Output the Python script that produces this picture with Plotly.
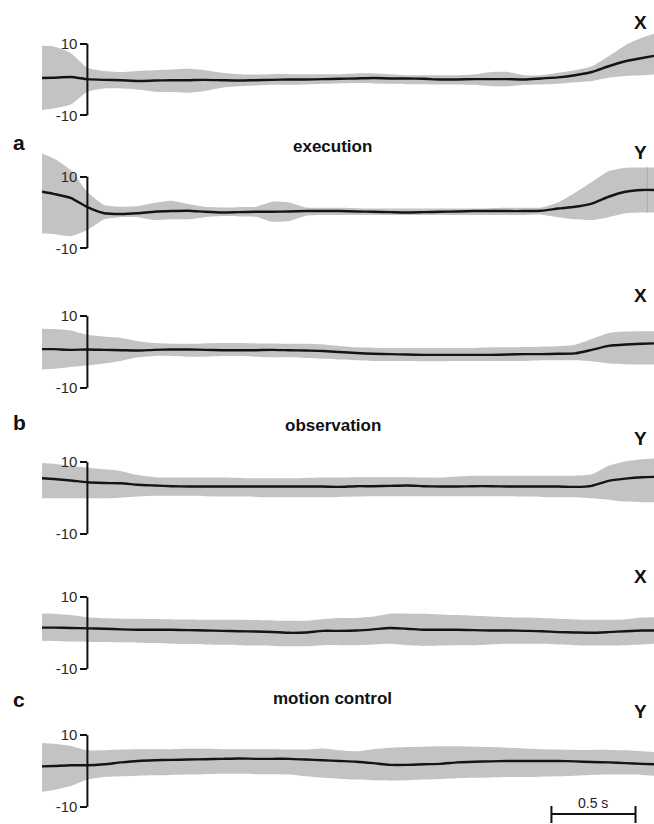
import plotly.graph_objects as go

# ---------------- data ----------------
time_s = [-0.27, -0.2, -0.1, 0.0, 0.1, 0.2, 0.3, 0.4, 0.5, 0.6, 0.7, 0.8, 0.9,
          1.0, 1.1, 1.2, 1.3, 1.4, 1.5, 1.6, 1.7, 1.8, 1.9, 2.0, 2.1, 2.2, 2.3,
          2.4, 2.5, 2.6, 2.7, 2.8, 2.9, 3.0, 3.1, 3.2, 3.3, 3.37]

exec_x_mean = [0.4, 0.5, 0.7, 0.1, -0.1, -0.2, -0.4, -0.3, -0.2, -0.2, -0.1, -0.2, -0.3,
               -0.2, -0.1, 0.0, 0.0, 0.1, 0.2, 0.3, 0.4, 0.3, 0.3, 0.2, 0.0, 0.0, 0.1,
               0.1, 0.1, 0.0, 0.3, 0.6, 1.2, 2.1, 3.7, 5.1, 6.0, 6.6]
exec_x_upper = [9.4, 9.2, 7.4, 3.3, 2.4, 2.1, 2.4, 2.6, 2.8, 3.0, 2.6, 1.9, 1.5,
                1.4, 1.5, 1.5, 1.5, 1.5, 1.5, 1.7, 1.7, 1.5, 1.2, 1.2, 1.2, 1.2, 1.4,
                2.1, 2.1, 1.2, 1.2, 1.9, 2.6, 3.7, 6.5, 9.6, 11.7, 12.8]
exec_x_lower = [-8.5, -8.1, -7.0, -3.4, -2.5, -2.5, -2.8, -3.4, -3.5, -3.7, -3.2, -2.3, -1.9,
                -1.7, -1.5, -1.5, -1.4, -1.2, -1.1, -1.0, -1.1, -1.2, -1.3, -1.3, -1.4, -1.4, -1.5,
                -1.9, -1.9, -1.5, -1.4, -1.2, -0.8, -0.4, 0.5, 1.0, 1.2, 1.4]

exec_y_mean = [5.8, 5.2, 4.1, 1.5, -0.2, -0.4, -0.2, 0.2, 0.4, 0.5, 0.2, 0.0, 0.1,
               0.2, 0.2, 0.3, 0.4, 0.4, 0.4, 0.3, 0.2, 0.1, 0.0, 0.1, 0.2, 0.3, 0.4,
               0.4, 0.4, 0.4, 0.5, 1.1, 1.6, 2.5, 4.4, 5.8, 6.3, 6.3]
exec_y_upper = [16.5, 15.1, 11.9, 5.8, 2.1, 1.6, 1.8, 2.7, 3.3, 2.4, 1.6, 1.4, 1.5,
                1.6, 3.0, 2.8, 1.4, 1.3, 1.3, 1.2, 1.1, 1.1, 1.1, 1.1, 1.1, 1.1, 1.1,
                1.2, 1.3, 1.3, 1.4, 2.8, 5.5, 8.5, 11.5, 12.5, 12.6, 12.6]
exec_y_lower = [-5.8, -6.0, -6.6, -4.9, -1.9, -1.3, -1.3, -2.1, -1.9, -1.9, -1.3, -1.0, -1.1,
                -1.2, -2.6, -2.4, -0.9, -0.7, -0.7, -0.7, -0.7, -0.7, -0.7, -0.7, -0.7, -0.7, -0.7,
                -0.7, -0.7, -0.7, -0.6, -1.3, -1.9, -2.1, -1.3, -0.2, 0.0, 0.0]
# thin grey trace artefact visible at the right of the execution-Y band
exec_y_artefact_t = 3.33
exec_y_artefact_span = [0.0, 12.6]

obs_x_mean = [0.8, 0.8, 0.6, 0.7, 0.6, 0.5, 0.4, 0.6, 0.7, 0.7, 0.6, 0.5, 0.5,
              0.5, 0.6, 0.5, 0.4, 0.3, 0.0, -0.3, -0.5, -0.6, -0.7, -0.8, -0.8, -0.8, -0.8,
              -0.8, -0.7, -0.6, -0.6, -0.5, -0.4, 0.6, 1.7, 2.1, 2.3, 2.4]
obs_x_upper = [6.5, 6.4, 6.0, 4.8, 4.3, 3.9, 3.0, 2.5, 2.3, 2.3, 2.4, 2.5, 2.5,
               2.4, 2.4, 2.3, 2.3, 2.1, 1.7, 1.3, 1.2, 1.1, 1.1, 1.1, 1.1, 1.1, 1.1,
               1.3, 1.3, 1.4, 1.5, 1.6, 2.0, 3.6, 5.3, 5.7, 5.8, 5.8]
obs_x_lower = [-4.9, -4.7, -4.2, -3.7, -3.2, -2.5, -1.5, -1.1, -1.1, -1.3, -1.3, -1.1, -1.1,
               -1.3, -1.5, -1.5, -1.7, -1.9, -2.1, -2.3, -2.5, -2.5, -2.5, -2.6, -2.6, -2.5, -2.5,
               -2.5, -2.5, -2.5, -2.3, -2.3, -2.3, -2.6, -3.2, -3.4, -3.5, -3.5]

obs_y_mean = [5.5, 5.3, 4.9, 4.4, 4.2, 4.1, 3.7, 3.5, 3.3, 3.2, 3.2, 3.2, 3.2,
              3.2, 3.2, 3.2, 3.2, 3.2, 3.1, 3.3, 3.3, 3.4, 3.5, 3.3, 3.2, 3.2, 3.3,
              3.3, 3.2, 3.2, 3.2, 3.2, 3.1, 3.4, 4.8, 5.4, 5.8, 5.9]
obs_y_upper = [9.8, 9.6, 9.0, 8.5, 8.0, 7.5, 6.4, 5.8, 5.7, 5.7, 5.7, 5.7, 5.6,
               5.5, 5.5, 5.5, 5.6, 5.7, 5.7, 5.8, 5.8, 5.8, 5.8, 5.7, 5.7, 6.0, 6.2,
               6.2, 6.2, 6.2, 6.2, 6.2, 6.2, 6.6, 9.0, 10.2, 10.8, 11.0]
obs_y_lower = [-0.1, -0.1, -0.1, -0.1, -0.1, 0.1, 0.4, 0.6, 0.6, 0.6, 0.5, 0.4, 0.4,
               0.3, 0.2, 0.2, 0.2, 0.2, 0.3, 0.4, 0.5, 0.5, 0.5, 0.5, 0.5, 0.5, 0.5,
               0.5, 0.5, 0.4, 0.3, 0.2, 0.2, -0.1, -0.5, -1.0, -1.2, -1.2]

ctrl_x_mean = [1.5, 1.5, 1.4, 1.3, 1.2, 1.0, 0.9, 0.9, 0.9, 0.8, 0.7, 0.6, 0.5,
               0.4, 0.3, 0.05, 0.15, 0.6, 0.6, 0.7, 1.0, 1.4, 1.2, 0.9, 0.9, 0.9, 0.8,
               0.7, 0.7, 0.6, 0.5, 0.25, 0.15, 0.05, 0.25, 0.5, 0.7, 0.7]
ctrl_x_upper = [5.4, 5.4, 5.0, 4.4, 4.1, 4.0, 4.0, 3.9, 3.8, 3.8, 3.7, 3.7, 3.7,
                3.6, 3.5, 3.4, 3.4, 3.9, 4.2, 4.2, 4.6, 5.4, 5.4, 5.4, 5.2, 5.0, 4.8,
                4.6, 4.4, 4.3, 4.2, 4.0, 3.8, 3.7, 3.7, 3.8, 4.3, 4.4]
ctrl_x_lower = [-2.2, -2.2, -2.4, -2.5, -2.5, -2.6, -2.7, -2.8, -3.0, -3.1, -3.2, -3.3, -3.4,
                -3.5, -3.6, -3.7, -3.7, -3.4, -3.4, -3.4, -3.2, -3.0, -3.4, -3.6, -3.5, -3.4, -3.4,
                -3.2, -3.0, -3.0, -3.0, -3.2, -3.4, -3.5, -3.5, -3.4, -3.2, -3.0]

ctrl_y_mean = [1.3, 1.4, 1.6, 1.6, 1.9, 2.4, 2.8, 3.0, 3.1, 3.2, 3.3, 3.4, 3.5,
               3.4, 3.4, 3.4, 3.2, 3.0, 2.8, 2.6, 2.2, 1.7, 1.7, 1.9, 2.0, 2.4, 2.6,
               2.7, 2.8, 2.8, 2.8, 2.8, 2.7, 2.5, 2.4, 2.2, 2.0, 1.9]
ctrl_y_upper = [7.8, 7.6, 7.0, 5.8, 5.8, 6.0, 6.1, 6.1, 6.1, 6.2, 6.2, 6.1, 6.1,
                6.1, 6.1, 6.0, 6.0, 6.3, 5.8, 5.5, 6.1, 6.5, 6.7, 6.8, 6.9, 6.9, 6.8,
                6.7, 6.5, 6.3, 6.1, 6.0, 5.9, 5.9, 5.9, 5.8, 5.5, 5.3]
ctrl_y_lower = [-5.8, -5.3, -4.2, -2.4, -1.7, -1.5, -1.3, -1.2, -1.1, -1.0, -0.9, -0.8, -0.8,
                -0.9, -0.9, -1.0, -1.5, -1.9, -2.2, -2.4, -2.6, -2.7, -2.6, -2.4, -2.2, -2.0, -1.9,
                -1.8, -1.7, -1.7, -1.6, -1.5, -1.3, -1.1, -1.0, -1.0, -1.1, -1.3]

panel_axis_labels = ["X", "Y", "X", "Y", "X", "Y"]
group_letters = ["a", "b", "c"]
group_titles = ["execution", "observation", "motion control"]
tick_values = [-10, 10]
tick_labels = ["-10", "10"]
scale_bar_start = 2.76
scale_bar_length = 0.5
scale_bar_label = "0.5 s"

panels = [
    (exec_x_mean, exec_x_upper, exec_x_lower),
    (exec_y_mean, exec_y_upper, exec_y_lower),
    (obs_x_mean, obs_x_upper, obs_x_lower),
    (obs_y_mean, obs_y_upper, obs_y_lower),
    (ctrl_x_mean, ctrl_x_upper, ctrl_x_lower),
    (ctrl_y_mean, ctrl_y_upper, ctrl_y_lower),
]

# ---------------- layout geometry ----------------
W, H = 654, 824
PX_PER_UNIT = 3.58
zero_px = [79.5, 212.5, 352, 498, 633, 771]
y_ranges = [[-14, 15], [-16, 18], [-14, 14], [-14, 14], [-14, 14], [-14, 14]]
x_dom0 = 42 / W
x_range = [time_s[0], time_s[-1]]
axis_pos = x_dom0 + (0 - x_range[0]) / (x_range[1] - x_range[0]) * (1 - x_dom0)

BAND = "#c3c3c3"
LINE = "#141414"
FONT = "Liberation Sans, Arial, sans-serif"

def py(px):
    return 1 - px / H

fig = go.Figure()
layout = dict(width=W, height=H, margin=dict(l=0, r=0, t=0, b=0),
              paper_bgcolor="white", plot_bgcolor="rgba(0,0,0,0)",
              showlegend=False, font=dict(family=FONT, color="#222"))
shapes = []
annotations = []

for i, (mean, upper, lower) in enumerate(panels):
    n = i + 1
    xa = "x" if n == 1 else f"x{n}"
    ya = "y" if n == 1 else f"y{n}"
    lo, hi = y_ranges[i]
    top_px = zero_px[i] - hi * PX_PER_UNIT
    bot_px = zero_px[i] - lo * PX_PER_UNIT

    fig.add_trace(go.Scatter(x=time_s, y=upper, mode="lines", line=dict(width=0, shape="spline", smoothing=0.6),
                             xaxis=xa, yaxis=ya, hoverinfo="skip"))
    fig.add_trace(go.Scatter(x=time_s, y=lower, mode="lines", line=dict(width=0, shape="spline", smoothing=0.6),
                             fill="tonexty", fillcolor=BAND, xaxis=xa, yaxis=ya, hoverinfo="skip"))
    if i == 1:
        fig.add_trace(go.Scatter(x=[exec_y_artefact_t, exec_y_artefact_t], y=exec_y_artefact_span,
                                 mode="lines", line=dict(color="#a8a8a8", width=1),
                                 xaxis=xa, yaxis=ya, hoverinfo="skip"))
    fig.add_trace(go.Scatter(x=time_s, y=mean, mode="lines",
                             line=dict(color=LINE, width=2.4, shape="spline", smoothing=0.6),
                             xaxis=xa, yaxis=ya))

    xkey = "xaxis" if n == 1 else f"xaxis{n}"
    ykey = "yaxis" if n == 1 else f"yaxis{n}"
    layout[xkey] = dict(domain=[x_dom0, 1], range=x_range, visible=False, anchor=ya)
    layout[ykey] = dict(domain=[py(bot_px), py(top_px)], range=[lo, hi],
                        anchor="free", position=axis_pos,
                        showline=False, showgrid=False, zeroline=False,
                        tickmode="array", tickvals=tick_values, ticktext=tick_labels,
                        ticks="outside", ticklen=7, tickwidth=2, tickcolor="#111",
                        tickfont=dict(size=15, family=FONT, color="#2a2a2a"))
    # bracket line of the y axis, from -10 to 10
    shapes.append(dict(type="line", xref=xa, yref=ya, x0=0, x1=0,
                       y0=tick_values[0], y1=tick_values[1],
                       line=dict(color="#111", width=2)))
    # X / Y label
    lab_px = zero_px[i] - (60 if i % 2 else 57)
    annotations.append(dict(text=f"<b>{panel_axis_labels[i]}</b>", xref="paper", yref="paper",
                            x=640 / W, y=py(lab_px), showarrow=False,
                            font=dict(size=19, family=FONT, color="#111"),
                            xanchor="center", yanchor="middle"))

# group letters and titles
letter_px = [142, 422, 699]
title_px = [147, 425, 698]
for g in range(3):
    annotations.append(dict(text=f"<b>{group_letters[g]}</b>", xref="paper", yref="paper",
                            x=19 / W, y=py(letter_px[g]), showarrow=False,
                            font=dict(size=21, family=FONT, color="#111"),
                            xanchor="center", yanchor="middle"))
    annotations.append(dict(text=f"<b>{group_titles[g]}</b>", xref="paper", yref="paper",
                            x=333 / W, y=py(title_px[g]), showarrow=False,
                            font=dict(size=17, family=FONT, color="#111"),
                            xanchor="center", yanchor="middle"))

# scale bar (in time units of the last panel)
bar_y = py(814)
shapes.append(dict(type="line", xref="x6", yref="paper", x0=scale_bar_start,
                   x1=scale_bar_start + scale_bar_length, y0=bar_y, y1=bar_y,
                   line=dict(color="#111", width=2)))
for xv in (scale_bar_start, scale_bar_start + scale_bar_length):
    shapes.append(dict(type="line", xref="x6", yref="paper", x0=xv, x1=xv,
                       y0=py(806), y1=py(823), line=dict(color="#111", width=2)))
annotations.append(dict(text=scale_bar_label, xref="x6", yref="paper",
                        x=scale_bar_start + scale_bar_length / 2, y=py(803),
                        showarrow=False, font=dict(size=14, family=FONT, color="#222"),
                        xanchor="center", yanchor="middle"))

layout["shapes"] = shapes
layout["annotations"] = annotations
fig.update_layout(**layout)
fig.write_html("out.html", config={"displayModeBar": False, "staticPlot": True})

# remove the default page margin so the figure sits at the window's top-left corner
with open("out.html", "r", encoding="utf-8") as f:
    html = f.read()
html = html.replace("<head>", "<head><style>html,body{margin:0;padding:0;overflow:hidden;}</style>", 1)
with open("out.html", "w", encoding="utf-8") as f:
    f.write(html)
